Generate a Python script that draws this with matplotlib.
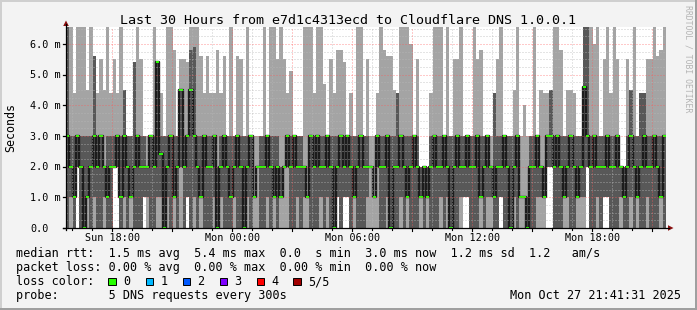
import numpy as np
import matplotlib
matplotlib.use("Agg")
import matplotlib.pyplot as plt
from matplotlib.lines import Line2D
from matplotlib.patches import Rectangle, Polygon

# ---------------- data (ms), 180 ten-minute steps, 5 sorted pings ----------------
TOP = 7.5  # readings clipped at the top of the chart
ping1 = [0,0,0,2,0,0,0,0,0,0, 0,0,0,0,2,2,0,0,0,0, 0,0,0,1,0,0,0,0,0,0,
         0,0,0,0,0,0,1,0,0,0, 0,0,0,0,0,0,0,0,0,0, 0,0,0,0,0,0,0,0,0,0,
         0,0,0,0,0,0,0,0,0,0, 0,0,0,0,0,0,0,0,0,0, 0,1,0,1,1,0,0,0,0,0,
         0,0,0,0,0,0,0,0,0,0, 0,0,0,0,0,0,0,0,0,0, 0,0,0,0,0,0,0,0,0,1,
         1,0,0,0,0,0,0,0,0,0, 1,0,0,0,0,0,0,0,0,0, 0,0,0,0,2,2,0,0,0,0,
         0,0,0,0,0,0,2,0,0,0, 0,1,1,0,0,0,0,0,0,0, 0,0,0,0,0,0,0,0,0,0]
ping2 = [0,1,0,2,0,0,1,0,1,0, 0,1,0,0,2,2,0,1,0,1, 0,0,0,1,1,0,0,1,1,0,
         1,0,1,0,2,0,1,0,1,0, 1,0,0,0,1,0,1,0,0,0, 1,0,0,0,1,0,1,2,0,0,
         1,0,1,0,1,2,2,0,0,1, 0,1,1,0,0,0,1,0,1,0, 0,1,0,1,1,0,1,0,0,0,
         1,2,1,2,0,0,1,0,0,0, 1,0,1,0,0,0,1,0,1,0, 0,0,1,0,1,0,0,0,1,1,
         1,0,0,0,1,0,1,1,0,0, 1,0,0,0,1,0,1,1,0,0, 0,1,1,1,2,2,0,0,0,1,
         1,0,0,1,1,1,2,0,0,1, 0,1,1,0,0,0,1,0,0,1, 0,1,0,0,1,0,0,0,1,0]
median = [3,2,1,3,2,0,1,2,3,2, 3,2,1,2,2,3,1,3,2,1, 2,3,2,2,2,3,2,5.4,2.4,0,
          2,3,1,2,4.5,2,3,4.5,3,2, 1,3,2,2,3,0,2,3,2,1, 2,3,2,0,2,3,1,2,2,2,
          3,2,1,2,1,2,3,2,3,2, 2,2,1,3,2,3,2,2,3,2, 0,2,3,2,3,2,1,2,3,2,
          2,2,1,3,2,2,3,0,2,2, 3,2,1,2,3,2,1,2,1,2, 3,2,2,3,2,0,2,3,2,2,
          3,2,2,3,1,2,3,2,1,2, 2,3,2,0,2,3,1,1,0,2, 2,3,2,1,3,3,2,3,2,1,
          2,3,2,1,2,4.6,3,2,3,2, 2,2,3,2,2,3,2,1,2,3, 2,1,2,3,2,2,3,2,1,3]
ping4 = [TOP,3,3,3,3,3,3,3,5.6,3, 3,2,3,3,3,3,3,4.5,3,3, 5.4,3,3,3,2,3,3,5.4,3,3,
         3,3,3,3,4.5,3,3,5.8,5.9,3, 3,3,3,3,3,2,3,3,3,3, 3,3,3,3,3,3,1,2,3,3,
         3,3,3,3,2,2,3,3,3,3, 3,2,1,3,3,3,3,3,3,3, 3,3,3,3,3,3,3,3,3,3,
         3,2,1,3,3,3,3,3,3,4.4, 3,3,3,3,3,3,2,2,2,3, 3,3,3,3,3,3,3,3,3,3,
         3,3,3,3,3,3,3,2,4.4,3, 3,3,3,3,3,3,1,1,1,3, 3,3,2,2,3,4.5,3,3,3,3,
         3,3,3,3,3,TOP,TOP,3,3,3, 3,3,3,3,3,3,2,2,3,4.5, 3,3,4.4,4.4,3,3,3,3,3,3]
ping5 = [TOP,TOP,4.4,TOP,TOP,TOP,4.5,TOP,5.6,4.4, 5.5,4.5,TOP,4.4,5.5,4.4,TOP,4.5,3,3,
         5.4,TOP,5.5,3,3,3,TOP,5.4,4.4,3, TOP,TOP,5.8,3,5.5,5.5,5.4,TOP,TOP,TOP,
         5.6,4.4,5.6,4.4,4.4,5.8,4.4,5.6,3,TOP, 3,5.6,5.5,3,TOP,3,3,3,3,TOP,
         3,TOP,TOP,5.5,TOP,5.5,4.4,5.1,3,3, 3,TOP,TOP,TOP,4.4,TOP,TOP,4.7,3,5.5,
         4.4,5.8,5.8,5.4,3,4.4,3,TOP,TOP,3, 5.5,3,3,4.4,TOP,5.8,5.6,5.6,4.5,4.4,
         TOP,TOP,TOP,6.0,3,5.5,2,2,2,4.4, TOP,TOP,TOP,3,TOP,3,5.5,5.5,TOP,3,
         3,3,TOP,5.5,5.8,3,3,3,4.4,5.5, TOP,3,3,3,4.5,TOP,3,4.0,3,3,
         TOP,3,4.5,4.4,4.4,4.5,TOP,TOP,5.8,3, 4.5,4.5,4.4,3,3,TOP,TOP,TOP,6.0,TOP,
         3,5.5,TOP,4.4,TOP,5.5,2,2,5.5,4.5, TOP,3,4.4,4.4,5.5,5.5,TOP,5.6,5.8,TOP]

start_hour = 15 + 41/60 + 31/3600          # Sun 15:41:31
step_h = 10/60
x_labels = ["Sun 18:00", "Mon 00:00", "Mon 06:00", "Mon 12:00", "Mon 18:00"]
x_label_hours = [18, 24, 30, 36, 42]
y_ticks = [0, 1, 2, 3, 4, 5, 6]
y_labels = ["0.0", "1.0 m", "2.0 m", "3.0 m", "4.0 m", "5.0 m", "6.0 m"]
title = "Last 30 Hours from e7d1c4313ecd to Cloudflare DNS 1.0.0.1"
legend_rows = ["median rtt:  1.5 ms avg  5.4 ms max  0.0  s min  3.0 ms now  1.2 ms sd  1.2   am/s",
               "packet loss: 0.00 % avg  0.00 % max  0.00 % min  0.00 % now"]
loss_labels = ["0", "1", "2", "3", "4", "5/5"]
loss_colors = ["#26ff00", "#00b8ff", "#0059ff", "#7e00ff", "#ff0000", "#a10000"]
probe_text = "probe:       5 DNS requests every 300s"
stamp = "Mon Oct 27 21:41:31 2025"

# ---------------- figure ----------------
W, H = 697, 310
FONT = "DejaVu Sans Mono"
plt.rcParams["font.family"] = [FONT]
fig = plt.figure(figsize=(W/100, H/100), dpi=100, facecolor="#f3f3f3")

def fx(x): return x / W
def fy(y): return 1 - y / H

L, R, T, B = 66, 666, 27.3, 228
ax = fig.add_axes([fx(L), fy(B), (R - L)/W, (B - T)/H])
ax.set_facecolor("white")
ax.set_xlim(0, 30)
ax.set_ylim(0, 6.54)
ax.set_xticks([]); ax.set_yticks([])
for s in ax.spines.values():
    s.set_visible(False)

p1 = np.array(ping1, float); p2 = np.array(ping2, float)
p3 = np.array(median, float); p4 = np.array(ping4, float); p5 = np.array(ping5, float)
n = len(p1)
edges = np.arange(n + 1) * step_h
ext = lambda a: np.append(a, a[-1])

ax.fill_between(edges, ext(p1), ext(p5), step="post", color="#a4a4a4", lw=0, zorder=1)
ax.fill_between(edges, ext(p2), ext(p4), step="post", color="#585858", lw=0, zorder=2)
ax.step(edges, ext(p3), where="post", color="#1c1c1c", lw=1.7, zorder=3)
ax.bar(edges[:-1], 0.07, bottom=p3 - 0.035, width=step_h, align="edge",
       color=loss_colors[0], lw=0, zorder=4)

# grid on top
minor_c = (0.72, 0.72, 0.72, 0.75)
major_c = (1.0, 0.35, 0.35, 0.65)
dash = (0, (1, 2))
for v in np.arange(0.25, 6.54, 0.25):
    if abs(v - round(v)) < 1e-6:
        continue
    ax.axhline(v, color=minor_c, lw=0.72, ls=dash, zorder=6)
for v in y_ticks[1:]:
    ax.axhline(v, color=major_c, lw=0.72, ls=dash, zorder=7)
for c in range(16, 46):
    t = c - start_hour
    if c % 3 == 0:
        ax.axvline(t, color=major_c, lw=0.72, ls=dash, zorder=7)
    else:
        ax.axvline(t, color=minor_c, lw=0.72, ls=dash, zorder=6)

def data_to_px(t, v):
    return L + t / 30 * (R - L), B - v / 6.54 * (B - T)

# axes lines, ticks, arrows
fig.add_artist(Line2D([fx(63), fx(669)], [fy(B), fy(B)], color="black", lw=0.9))
fig.add_artist(Line2D([fx(L), fx(L)], [fy(B + 2), fy(24)], color="black", lw=0.9))
for v in y_ticks:
    _, yy = data_to_px(0, v)
    fig.add_artist(Line2D([fx(L - 3), fx(L)], [fy(yy), fy(yy)], color="black", lw=0.9))
for c in range(16, 46):
    xx, _ = data_to_px(c - start_hour, 0)
    ln = 3 if c % 3 == 0 else 2
    fig.add_artist(Line2D([fx(xx), fx(xx)], [fy(B), fy(B + ln)], color="black", lw=0.8))
arrow_c = "#8b1010"
fig.add_artist(Polygon([(fx(L - 2.8), fy(26)), (fx(L + 2.8), fy(26)), (fx(L), fy(20.5))],
                       closed=True, color=arrow_c, lw=0))
fig.add_artist(Polygon([(fx(668), fy(B - 2.8)), (fx(668), fy(B + 2.8)), (fx(673.5), fy(B))],
                       closed=True, color=arrow_c, lw=0))

# texts
fig.text(fx(348.5), fy(24), title, ha="center", va="baseline", fontsize=9.6, color="black")
fig.text(fx(11), fy(128), "Seconds", rotation=90, ha="center", va="center", fontsize=8.4)
for v, lab in zip(y_ticks, y_labels):
    _, yy = data_to_px(0, v)
    fig.text(fx(30), fy(yy + 3.7), lab, ha="left", va="baseline", fontsize=7.3)
for c, lab in zip(x_label_hours, x_labels):
    xx, _ = data_to_px(c - start_hour, 0)
    fig.text(fx(xx), fy(240.7), lab, ha="center", va="baseline", fontsize=7.3)

leg_fs = 8.45
fig.text(fx(16), fy(257.5), legend_rows[0], ha="left", va="baseline", fontsize=leg_fs)
fig.text(fx(16), fy(271.5), legend_rows[1], ha="left", va="baseline", fontsize=leg_fs)
fig.text(fx(16), fy(285.2), "loss color:", ha="left", va="baseline", fontsize=leg_fs)
box_x = [108.3, 145.7, 182.7, 219.8, 256.5, 293.2]
for bx, col, lab in zip(box_x, loss_colors, loss_labels):
    fig.add_artist(Rectangle((fx(bx), fy(285.3)), 7.5/W, 7.5/H, facecolor=col,
                             edgecolor="black", lw=0.7))
    fig.text(fx(bx + 14.5), fy(285.2), lab, ha="left", va="baseline", fontsize=leg_fs)
fig.text(fx(16), fy(298.8), probe_text, ha="left", va="baseline", fontsize=leg_fs)
fig.text(fx(681), fy(298.8), stamp, ha="right", va="baseline", fontsize=leg_fs)

fig.text(fx(688), fy(59), "RRDTOOL / TOBI OETIKER", rotation=270, ha="center", va="center",
         fontsize=5.9, color="#b4b4b4")

# 3D frame
fig.add_artist(Rectangle((0, fy(2)), 1, 2/H, facecolor="#cfcfcf", lw=0))
fig.add_artist(Rectangle((0, 0), 2/W, 1, facecolor="#cfcfcf", lw=0))
fig.add_artist(Rectangle((0, 0), 1, 2.5/H, facecolor="#9f9f9f", lw=0))
fig.add_artist(Rectangle((fx(694.5), 0), 2.5/W, 1, facecolor="#9f9f9f", lw=0))

fig.savefig("out.png", dpi=100, facecolor=fig.get_facecolor())
